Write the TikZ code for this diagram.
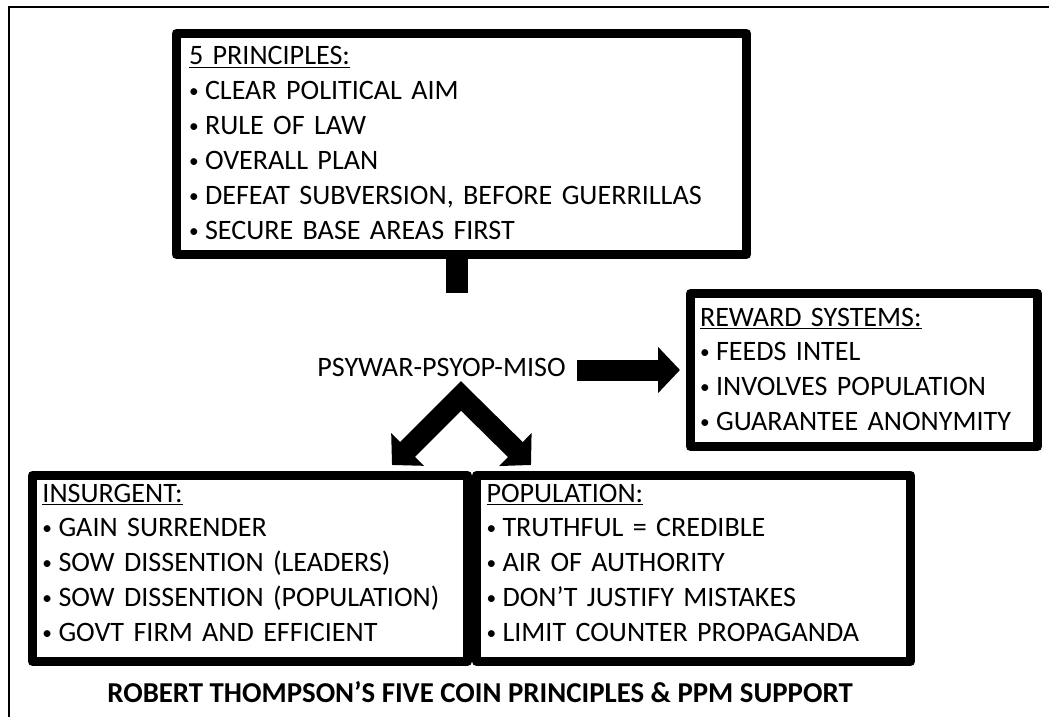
\documentclass[tikz,border=0pt]{standalone}
\usepackage{fontspec}
\setmainfont{Carlito}
\usetikzlibrary{arrows.meta}

\newcommand{\blt}{\makebox[3.2mm][l]{\raisebox{0.4mm}{\fontsize{11}{0}\selectfont •}}}

\tikzset{
  panel/.style={draw, line width=1.8mm, line join=round, anchor=north west, outer sep=0pt, align=left, inner ysep=0pt, font=\fontsize{16}{19.9}\selectfont},
  fatarrow/.style={line width=4.2mm, -{Triangle[length=4.4mm, width=9mm]}},
  stemline/.style={line width=4.4mm},
  frameline/.style={line width=0.4mm}
}

\begin{document}
\begin{tikzpicture}[x=0.2mm, y=-0.2mm]
            \useasboundingbox (0,0) rectangle (1049,717);
            \draw[frameline] (8.5,720) |- (1052,7.5);

            % Principles box
            \node[panel, inner xsep=2.5mm, text width=109mm, text height=6.3mm, text depth=37.9mm] (principles) at (176.5,33.5) {\underline{5 PRINCIPLES:}\\\blt CLEAR POLITICAL AIM\\\blt RULE OF LAW\\\blt OVERALL PLAN\\\blt DEFEAT SUBVERSION, BEFORE GUERRILLAS\\\blt SECURE BASE AREAS FIRST};

            % Middle text and reward box
            \node[inner sep=0pt, font=\fontsize{16}{19.9}\selectfont] (psyop) at (441.5,367) {PSYWAR-PSYOP-MISO};
            \node[panel, inner xsep=1.9mm, text width=65.6mm, text height=6.5mm, text depth=24.1mm] (reward) at (690.5,293.5) {\underline{REWARD SYSTEMS:}\\\blt FEEDS INTEL\\\blt INVOLVES POPULATION\\\blt GUARANTEE ANONYMITY};

            % Lower boxes
            \node[panel, inner xsep=2mm, text width=83mm, text height=5.3mm, text depth=31.9mm] (insurgent) at (32.5,475.5) {\underline{INSURGENT:}\\\blt GAIN SURRENDER\\\blt SOW DISSENTION (LEADERS)\\\blt SOW DISSENTION (POPULATION)\\\blt GOVT FIRM AND EFFICIENT};
            \node[panel, inner xsep=2mm, text width=82.8mm, text height=5.3mm, text depth=31.9mm] (population) at (476.5,475.5) {\underline{POPULATION:}\\\blt TRUTHFUL = CREDIBLE\\\blt AIR OF AUTHORITY\\\blt DON’T JUSTIFY MISTAKES\\\blt LIMIT COUNTER PROPAGANDA};

            \node[font=\fontsize{16.4}{19.9}\selectfont\bfseries] (caption) at (480,692) {ROBERT THOMPSON’S FIVE COIN PRINCIPLES \& PPM SUPPORT};

            % Connectors
            \coordinate (stemend) at (457,293);
            \coordinate (vtop) at (461,396);
            \coordinate (vleft) at (392,465);
            \coordinate (vright) at (531,465);
            \draw[stemline] (principles.south -| stemend) -- (stemend);
            \draw[fatarrow, shorten <=2.2mm, shorten >=2.1mm] (psyop.east |- reward.west) -- (reward.west);
            \draw[fatarrow, {Triangle[length=4.4mm, width=9mm]}-{Triangle[length=4.4mm, width=9mm]}, line join=miter] (vleft) -- (vtop) -- (vright);
        \end{tikzpicture}
\end{document}
